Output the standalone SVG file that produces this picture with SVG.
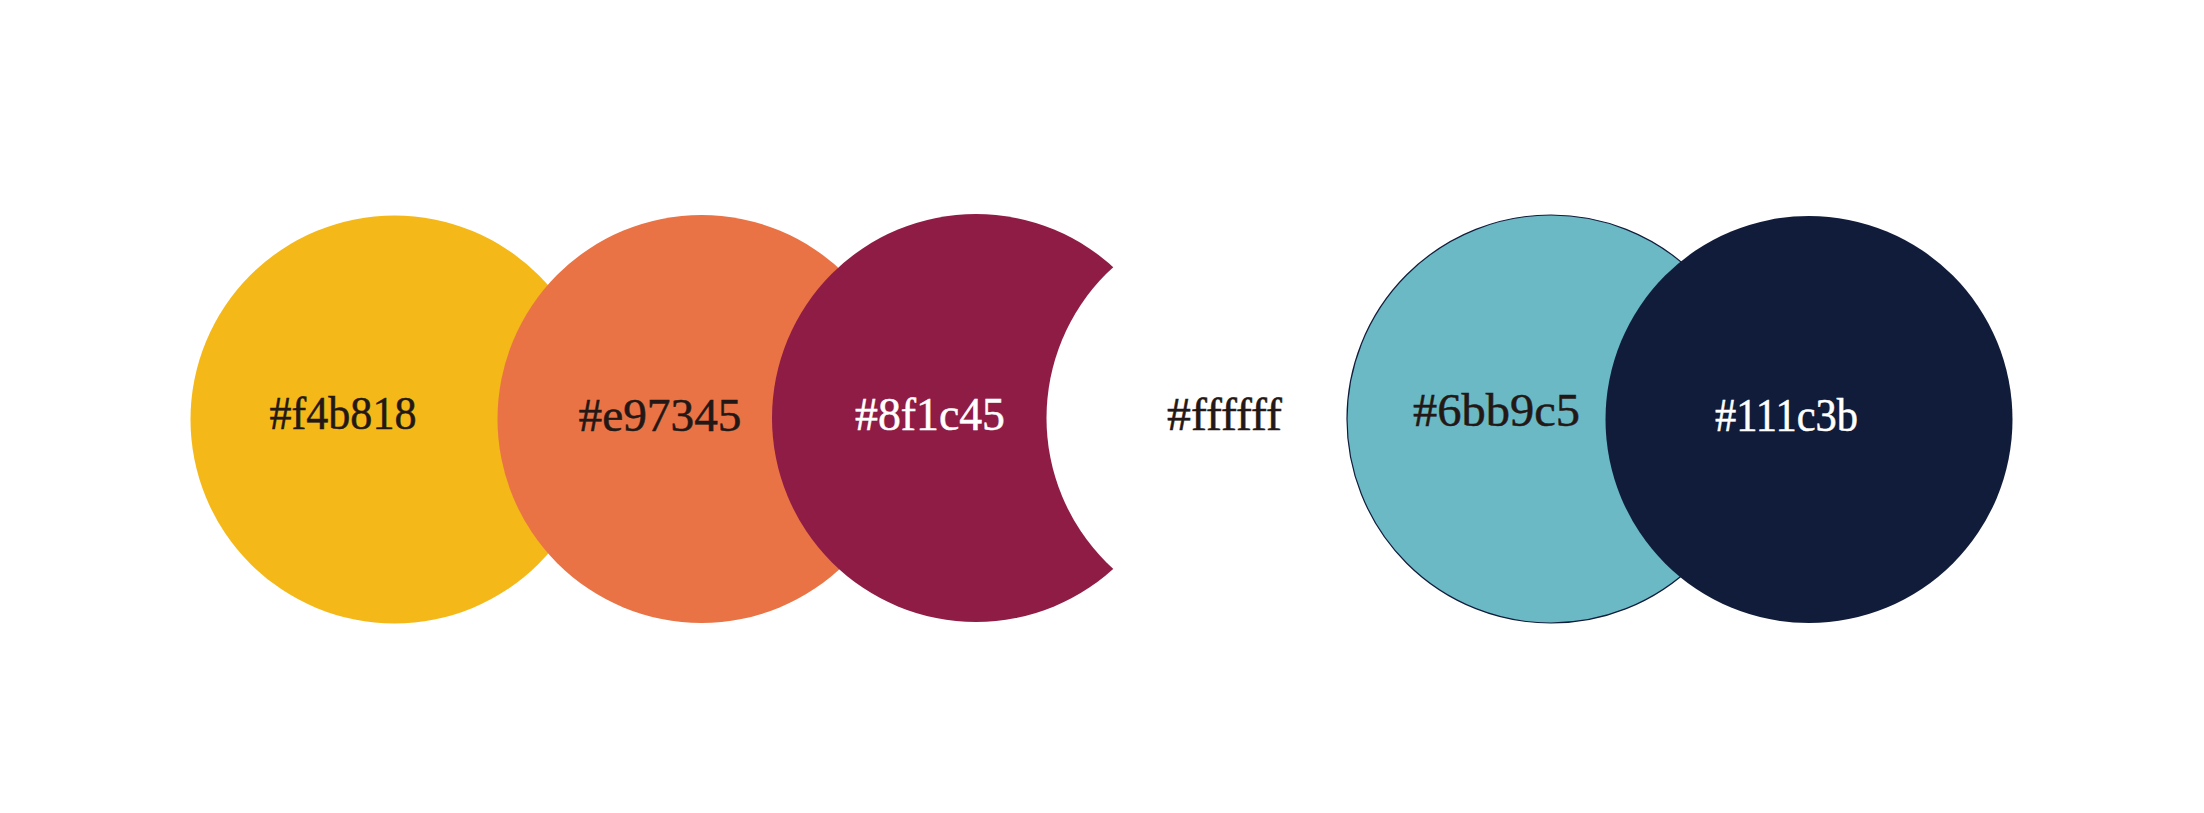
<svg xmlns="http://www.w3.org/2000/svg" width="2204" height="813" viewBox="0 0 2204 813">
<style>
.lbl{font-family:"Liberation Serif","Times New Roman",serif;font-size:46px;text-anchor:middle}
.dk{fill:#231815;stroke:#231815;stroke-width:0.5}
.lt{fill:#ffffff;stroke:#ffffff;stroke-width:0.5}
</style>
<rect width="2204" height="813" fill="#ffffff"/>
<g id="connectors"/>
<g id="node-f4b818">
<circle cx="394.5" cy="419.5" r="204" fill="#f4b818"/>
<text class="lbl dk" x="343" y="429" textLength="147" lengthAdjust="spacingAndGlyphs">#f4b818</text>
</g>
<g id="node-e97345">
<circle cx="701.5" cy="419" r="204" fill="#e97345"/>
<text class="lbl dk" x="660" y="431" textLength="163" lengthAdjust="spacingAndGlyphs">#e97345</text>
</g>
<g id="node-8f1c45">
<circle cx="976" cy="418" r="204" fill="#8f1c45"/>
<text class="lbl lt" x="930" y="430" textLength="150" lengthAdjust="spacingAndGlyphs">#8f1c45</text>
</g>
<g id="node-ffffff">
<circle cx="1250.5" cy="418" r="204" fill="#ffffff"/>
<text class="lbl dk" x="1224.5" y="430" textLength="115" lengthAdjust="spacingAndGlyphs">#ffffff</text>
</g>
<g id="node-6bb9c5">
<circle cx="1551" cy="419" r="204" fill="#6bb9c5" stroke="#111c3b" stroke-width="1.2"/>
<text class="lbl dk" x="1496.5" y="426" textLength="167" lengthAdjust="spacingAndGlyphs">#6bb9c5</text>
</g>
<g id="node-111c3b">
<circle cx="1809" cy="419.5" r="203.5" fill="#111c3b"/>
<text class="lbl lt" x="1786.5" y="431" textLength="143" lengthAdjust="spacingAndGlyphs">#111c3b</text>
</g>
</svg>
